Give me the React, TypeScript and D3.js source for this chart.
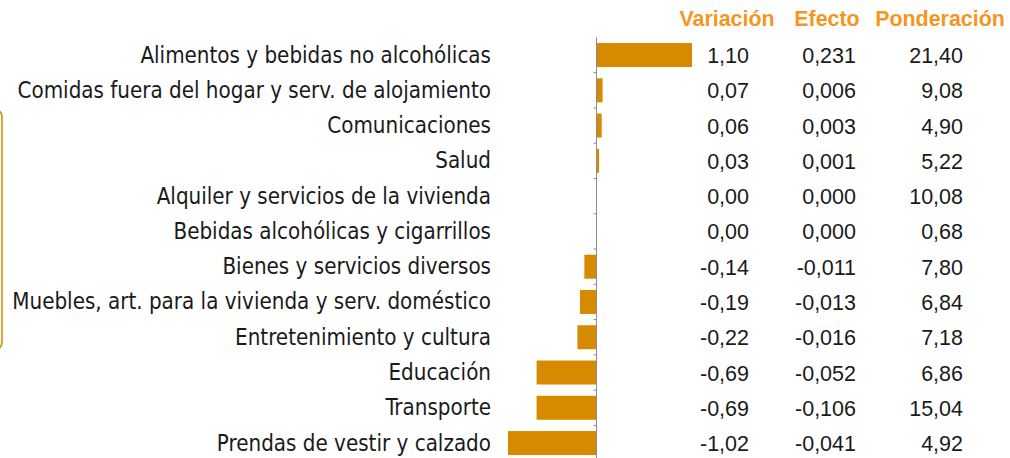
import React from "react";
import * as d3 from "d3";

const categories = [
  "Alimentos y bebidas no alcohólicas",
  "Comidas fuera del hogar y serv. de alojamiento",
  "Comunicaciones",
  "Salud",
  "Alquiler y servicios de la vivienda",
  "Bebidas alcohólicas y cigarrillos",
  "Bienes y servicios diversos",
  "Muebles, art. para la vivienda y serv. doméstico",
  "Entretenimiento y cultura",
  "Educación",
  "Transporte",
  "Prendas de vestir y calzado",
];
const variacion = [1.1, 0.07, 0.06, 0.03, 0.0, 0.0, -0.14, -0.19, -0.22, -0.69, -0.69, -1.02];
const efecto = [0.231, 0.006, 0.003, 0.001, 0.0, 0.0, -0.011, -0.013, -0.016, -0.052, -0.106, -0.041];
const ponderacion = [21.4, 9.08, 4.9, 5.22, 10.08, 0.68, 7.8, 6.84, 7.18, 6.86, 15.04, 4.92];
const headers = ["Variación", "Efecto", "Ponderación"];

const W = 1010;
const H = 458;
const BAR = "#D68A00";
const HEAD = "#F5961F";

const fmt = (v: number, d: number) => v.toFixed(d).replace(".", ",");

export default function App() {
  const y = d3.scaleBand<string>().domain(categories).range([37.4, 460.7]).paddingInner(0);
  const x = d3.scaleLinear().domain([0, 1.1]).range([596.5, 692]);
  const bh = y.bandwidth() * 0.68;
  const boundaries = categories.map((c) => y(c) as number).slice(1);
  const colX = [749, 856, 963];
  const headX = [727, 827, 940];
  return (
    <svg width={W} height={H} style={{ position: "absolute", left: 0, top: 0, background: "#fff" }}>
      {headers.map((h, i) => (
        <text key={h} x={headX[i]} y={26} textAnchor="middle" fontFamily="Liberation Sans, Arial, sans-serif" fontWeight="bold" fontSize={21.4} fill={HEAD}>
          {h}
        </text>
      ))}
      <path d="M -10 110 L -4 110 Q 2 110 2 118 L 2 341 Q 2 349 -4 349 L -10 349" fill="none" stroke={BAR} strokeWidth={1.5} />
      {categories.map((c, i) => {
        const cy = (y(c) as number) + y.bandwidth() / 2;
        const v = variacion[i];
        const x0 = x(Math.min(0, v));
        const x1 = x(Math.max(0, v));
        return (
          <g key={c}>
            <text x={491} y={cy + 7.5} textAnchor="end" fontFamily="DejaVu Sans Condensed, DejaVu Sans, sans-serif" fontStretch="condensed" fontSize={22.2} fill="#1a1a1a">
              {c}
            </text>
            {x1 - x0 > 0 && <rect x={x0} y={cy - bh / 2} width={x1 - x0} height={bh} fill={BAR} />}
            <text x={colX[0]} y={cy + 8} textAnchor="end" fontFamily="Liberation Sans, Arial, sans-serif" fontSize={21.5} fill="#1a1a1a">{fmt(v, 2)}</text>
            <text x={colX[1]} y={cy + 8} textAnchor="end" fontFamily="Liberation Sans, Arial, sans-serif" fontSize={21.5} fill="#1a1a1a">{fmt(efecto[i], 3)}</text>
            <text x={colX[2]} y={cy + 8} textAnchor="end" fontFamily="Liberation Sans, Arial, sans-serif" fontSize={21.5} fill="#1a1a1a">{fmt(ponderacion[i], 2)}</text>
          </g>
        );
      })}
      <line x1={x(0)} x2={x(0)} y1={37.4} y2={460.7} stroke="#8c8c8c" strokeWidth={1} />
      {boundaries.map((b, i) => (
        <line key={i} x1={x(0) - 3} x2={x(0)} y1={b} y2={b} stroke="#8c8c8c" strokeWidth={1} />
      ))}
    </svg>
  );
}
